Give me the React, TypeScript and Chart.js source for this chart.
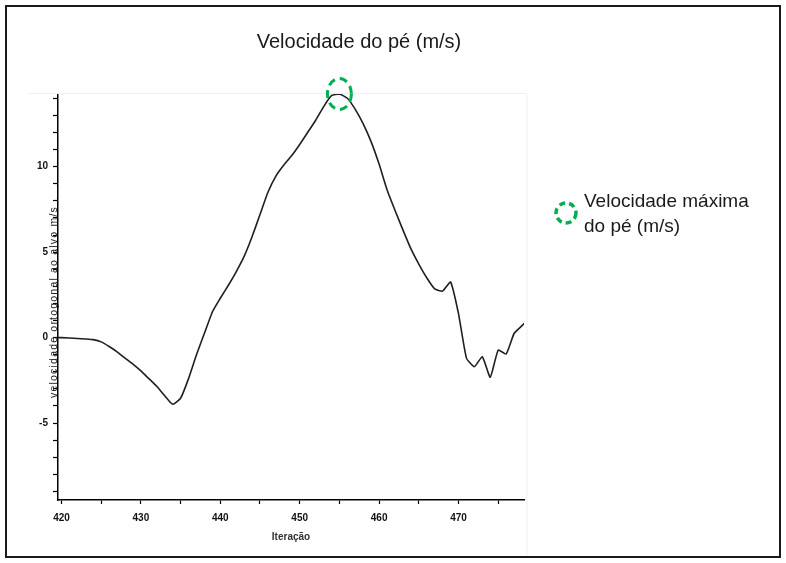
import React, { useEffect, useRef } from "react";
import { Chart, registerables } from "chart.js";

Chart.register(...registerables);

const iterations = [
  419, 420, 421, 422, 423, 424, 425, 426, 427, 428, 429,
  430, 431, 432, 433, 434, 435, 436, 437, 438, 439,
  440, 441, 442, 443, 444, 445, 446, 447, 448, 449,
  450, 451, 452, 453, 454, 455, 456, 457, 458, 459,
  460, 461, 462, 463, 464, 465, 466, 467, 468, 469,
  470, 471, 472, 473, 474, 475, 476, 477, 478, 479,
];
const velocity = [
  0.0, 0.0, -0.02, -0.05, -0.08, -0.12, -0.25, -0.52, -0.83, -1.2, -1.55,
  -1.95, -2.4, -2.85, -3.4, -3.9, -3.55, -2.4, -1.0, 0.25, 1.5,
  2.3, 3.05, 3.85, 4.75, 5.9, 7.2, 8.5, 9.45, 10.1, 10.65,
  11.3, 12.0, 12.7, 13.5, 14.15, 14.25, 14.0, 13.35, 12.5, 11.45,
  10.15, 8.65, 7.45, 6.3, 5.2, 4.3, 3.5, 2.85, 2.72, 3.25,
  1.4, -1.2, -1.7, -1.12, -2.32, -0.73, -0.96, 0.24, 0.7, 1.15,
];

const xTicks = [420, 425, 430, 435, 440, 445, 450, 455, 460, 465, 470, 475];
const xTickLabels = [420, 430, 440, 450, 460, 470];
const yTicks = [-9, -8, -7, -6, -5, -4, -3, -2, -1, 0, 1, 2, 3, 4, 5, 6, 7, 8, 9, 10, 11, 12, 13, 14];
const yTickLabels = [-5, 0, 5, 10];

const chartTitle = "Velocidade do pé (m/s)";
const xTitle = "Iteração";
const yTitle = "velocidade ortogonal ao alvo m/s";
const legendLines = ["Velocidade máxima", "do pé (m/s)"];

const GREEN = "#00b050";

const decorPlugin = {
  id: "decor",
  afterDraw(chart: any) {
    const ctx = chart.ctx as CanvasRenderingContext2D;
    const xs = chart.scales.x;
    const ys = chart.scales.y;

    // faint pasted-image edges
    ctx.save();
    ctx.strokeStyle = "#efefef";
    ctx.lineWidth = 1;
    ctx.beginPath();
    ctx.moveTo(28, chart.chartArea.top - 0.5);
    ctx.lineTo(chart.chartArea.right + 3, chart.chartArea.top - 0.5);
    ctx.lineTo(chart.chartArea.right + 3, 556);
    ctx.stroke();
    ctx.restore();

    // y axis title, drawn over the axis
    ctx.save();
    ctx.translate(54, 302);
    ctx.rotate(-Math.PI / 2);
    ctx.font = "10.5px 'Liberation Sans', Arial, sans-serif";
    (ctx as any).letterSpacing = "1.2px";
    ctx.fillStyle = "#222";
    ctx.textAlign = "center";
    ctx.textBaseline = "middle";
    ctx.fillText(yTitle, 0, 0);
    ctx.restore();

    // main title
    ctx.save();
    ctx.font = "20px 'Liberation Sans', Arial, sans-serif";
    ctx.fillStyle = "#1a1a1a";
    ctx.textAlign = "center";
    ctx.textBaseline = "alphabetic";
    ctx.fillText(chartTitle, 359, 48);
    ctx.restore();

    // peak marker
    let maxI = 0;
    velocity.forEach((v, i) => {
      if (v > velocity[maxI]) maxI = i;
    });
    const px = xs.getPixelForValue(iterations[maxI]);
    const py = ys.getPixelForValue(velocity[maxI]);
    ctx.save();
    ctx.strokeStyle = GREEN;
    ctx.lineWidth = 3;
    ctx.setLineDash([8, 5]);
    ctx.beginPath();
    ctx.ellipse(px, py, 12, 15.5, 0, 0, Math.PI * 2);
    ctx.stroke();
    ctx.restore();

    // legend
    ctx.save();
    ctx.strokeStyle = GREEN;
    ctx.lineWidth = 3.5;
    ctx.setLineDash([6, 4]);
    ctx.beginPath();
    ctx.ellipse(566, 213, 10, 10, 0, 0, Math.PI * 2);
    ctx.stroke();
    ctx.setLineDash([]);
    ctx.font = "19px 'Liberation Sans', Arial, sans-serif";
    ctx.fillStyle = "#1a1a1a";
    ctx.textAlign = "left";
    ctx.textBaseline = "alphabetic";
    ctx.fillText(legendLines[0], 584, 207);
    ctx.fillText(legendLines[1], 584, 232);
    ctx.restore();

    // outer frame
    ctx.save();
    ctx.strokeStyle = "#1a1a1a";
    ctx.lineWidth = 2;
    ctx.strokeRect(6, 6, 774, 551);
    ctx.restore();
  },
};

export default function App() {
  const ref = useRef<HTMLCanvasElement | null>(null);

  useEffect(() => {
    document.body.style.margin = "0";
    const canvas = ref.current;
    if (!canvas) return;
    const tickFont = { family: "'Liberation Sans', Arial, sans-serif", size: 10, weight: "bold" as const };
    const chart = new Chart(canvas, {
      type: "line",
      data: {
        datasets: [
          {
            data: iterations.map((x, i) => ({ x, y: velocity[i] })),
            borderColor: "#1f1f1f",
            borderWidth: 1.6,
            pointRadius: 0,
            tension: 0.15,
            clip: 0,
          } as any,
        ],
      },
      options: {
        animation: false,
        responsive: false,
        events: [],
        layout: { padding: { left: 0, right: 262, top: 94, bottom: 16 } },
        plugins: {
          legend: { display: false },
          tooltip: { enabled: false },
          title: { display: false },
        },
        scales: {
          x: {
            type: "linear",
            min: 419.56,
            max: 478.25,
            afterBuildTicks: (s: any) => {
              s.ticks = xTicks.map((v) => ({ value: v }));
            },
            afterFit: (s: any) => {
              s.height = 47;
            },
            ticks: {
              autoSkip: false,
              maxRotation: 0,
              padding: 8,
              color: "#111",
              font: tickFont,
              callback: (v: any) => (xTickLabels.includes(Number(v)) ? String(v) : ""),
            },
            grid: {
              display: true,
              drawOnChartArea: false,
              drawTicks: true,
              tickLength: 4,
              tickColor: "#000",
              tickWidth: 1.2,
            },
            border: { display: true, color: "#000", width: 1.5 },
            title: {
              display: true,
              text: xTitle,
              color: "#333",
              font: { family: "'Liberation Sans', Arial, sans-serif", size: 10, weight: "bold" },
              padding: { top: 4, bottom: 4 },
            },
          },
          y: {
            type: "linear",
            min: -9.5,
            max: 14.25,
            afterBuildTicks: (s: any) => {
              s.ticks = yTicks.map((v) => ({ value: v }));
            },
            afterFit: (s: any) => {
              s.width = 58;
            },
            ticks: {
              autoSkip: false,
              padding: 5,
              color: "#111",
              font: tickFont,
              callback: (v: any) => (yTickLabels.includes(Number(v)) ? String(v) : ""),
            },
            grid: {
              display: true,
              drawOnChartArea: false,
              drawTicks: true,
              tickLength: 5,
              tickColor: "#000",
              tickWidth: 1.2,
            },
            border: { display: true, color: "#000", width: 1.5 },
          },
        },
      },
      plugins: [decorPlugin],
    });
    return () => chart.destroy();
  }, []);

  return (
    <div style={{ width: 786, height: 563, background: "#fff" }}>
      <canvas ref={ref} width={786} height={563} style={{ display: "block" }} />
    </div>
  );
}
